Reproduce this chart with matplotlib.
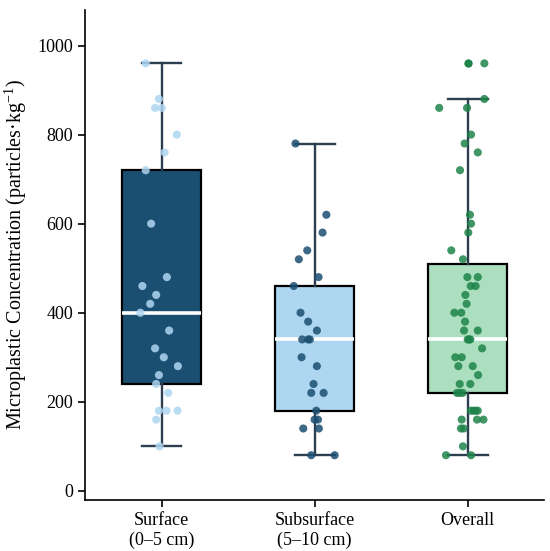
import matplotlib
matplotlib.use("Agg")
import matplotlib.pyplot as plt
import numpy as np

categories = ["Surface\n(0–5 cm)", "Subsurface\n(5–10 cm)", "Overall"]

surface = [960, 880, 860, 860, 800, 760, 720, 600, 480, 460, 440, 420, 400,
           360, 320, 300, 280, 260, 240, 220, 180, 180, 180, 160, 100]
surface_jit = [-0.103, -0.017, -0.042, 0.002, 0.10, 0.02, -0.103, -0.068, 0.035,
               -0.125, -0.035, -0.074, -0.138, 0.05, -0.042, 0.015, 0.107, -0.017,
               -0.035, 0.044, -0.017, 0.033, 0.105, -0.035, -0.013]

subsurface = [780, 620, 580, 540, 520, 480, 460, 400, 380, 360, 340, 340, 340,
              300, 280, 240, 220, 220, 180, 160, 160, 140, 140, 80, 80]
subsurface_jit = [-0.125, 0.077, 0.052, -0.048, -0.103, 0.026, -0.136, -0.092,
                  -0.042, 0.015, -0.081, -0.042, -0.031, -0.085, 0.015, -0.007,
                  -0.022, 0.059, 0.011, 0.0, 0.022, -0.074, 0.028, -0.022, 0.131]

overall = [960, 880, 860, 860, 800, 780, 760, 720, 620, 600, 580, 540, 520,
           480, 480, 460, 460, 440, 420, 400, 400, 380, 360, 360, 340, 340, 340,
           320, 300, 300, 280, 280, 260, 240, 240, 220, 220, 220, 180, 180, 180,
           180, 160, 160, 160, 140, 140, 100, 80, 80]
overall_jit = [0.109, 0.109, -0.186, -0.004, 0.022, -0.02, 0.066, -0.05, 0.015,
               0.022, 0.004, -0.107, -0.031, -0.002, 0.066, 0.02, 0.052, -0.015,
               -0.007, -0.087, -0.042, -0.017, -0.024, 0.066, 0.0, 0.009, 0.017,
               0.094, -0.081, -0.039, -0.061, 0.033, 0.068, -0.052, 0.017, -0.07,
               -0.052, -0.033, 0.022, 0.039, 0.052, 0.066, -0.039, 0.061, 0.103,
               -0.044, -0.026, -0.031, -0.142, 0.022]

box_colors = ["#1b4f72", "#aed6f1", "#abdfbf"]
point_colors = ["#aed6f1", "#1b4f72", "#1e8449"]

plt.rcParams["font.family"] = ["Liberation Serif", "DejaVu Serif"]
plt.rcParams["mathtext.fontset"] = "custom"
plt.rcParams["mathtext.rm"] = "Liberation Serif"
plt.rcParams["mathtext.it"] = "Liberation Serif:italic"
plt.rcParams["mathtext.bf"] = "Liberation Serif:bold"

fig = plt.figure(figsize=(5.5, 5.51), dpi=100)
ax = fig.add_axes([0.1545, 0.093, 0.835, 0.889])

datasets = [surface, subsurface, overall]
jitters = [surface_jit, subsurface_jit, overall_jit]
positions = np.arange(len(categories))

bp = ax.boxplot(datasets, positions=positions, widths=0.52, patch_artist=True,
                whis=1.5,
                boxprops=dict(edgecolor="black", linewidth=1.6),
                whiskerprops=dict(color="#2c3e50", linewidth=1.7),
                capprops=dict(color="#2c3e50", linewidth=1.7),
                medianprops=dict(color="white", linewidth=2.6),
                flierprops=dict(marker="o", markersize=6,
                                markerfacecolor="#1e8449",
                                markeredgecolor="none"),
                zorder=2)
for patch, c in zip(bp["boxes"], box_colors):
    patch.set_facecolor(c)

for i, (vals, jit, c) in enumerate(zip(datasets, jitters, point_colors)):
    ax.scatter(np.array(jit) + positions[i], vals, s=34, color=c, alpha=0.85,
               edgecolors="none", zorder=3)

ax.set_xlim(-0.5, 2.5)
ax.set_ylim(-20, 1080)
ax.set_yticks([0, 200, 400, 600, 800, 1000])
ax.set_xticks(positions)
ax.set_xticklabels(categories, fontsize=13)
ax.tick_params(axis="y", labelsize=13, length=5, width=1.2)
ax.tick_params(axis="x", length=5, width=1.2)
ax.set_ylabel("Microplastic Concentration (particles·kg$^{-1}$)", fontsize=14.5,
              labelpad=6)
for s in ["top", "right"]:
    ax.spines[s].set_visible(False)
for s in ["left", "bottom"]:
    ax.spines[s].set_linewidth(1.2)

fig.savefig("out.png", dpi=100)
